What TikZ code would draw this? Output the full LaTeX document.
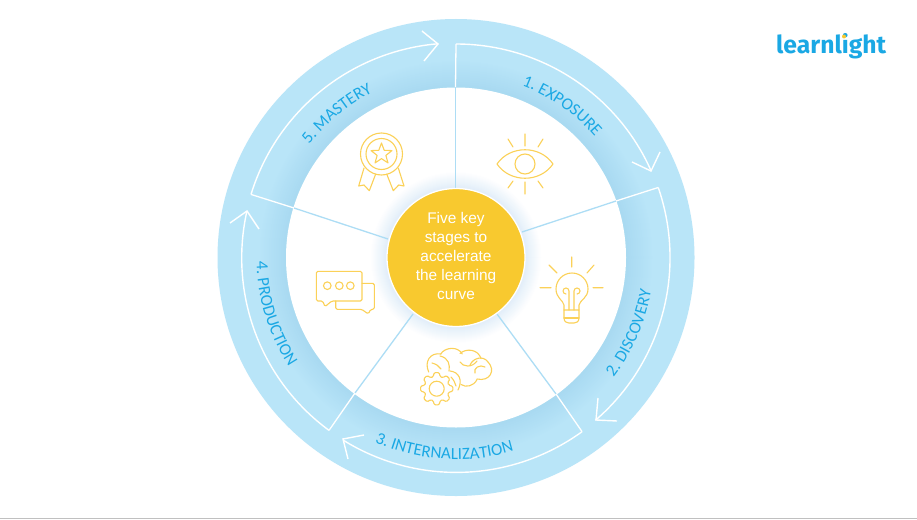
\documentclass[tikz,border=0pt]{standalone}
\usepackage{fontspec}
\setmainfont{Liberation Sans}
\newfontfamily\lblfont{Carlito}
\newfontfamily\logofont{Fira Sans}
\usetikzlibrary{calc,decorations.text}
\definecolor{ringout}{HTML}{B9E5F8}
\definecolor{ringin}{HTML}{A8D9F1}
\definecolor{spokeblue}{HTML}{ADDDF5}
\definecolor{lbl}{HTML}{1AA8E4}
\definecolor{hubfill}{HTML}{F8C92F}
\definecolor{iconcol}{HTML}{FBD158}
\definecolor{glowcol}{HTML}{E0EDF9}
\definecolor{footline}{HTML}{C0C0C0}
\tikzset{
  flow/.style={draw=white,line width=1.4pt,line join=miter},
  spokein/.style={draw=spokeblue,line width=1.3pt},
  spokeout/.style={draw=white,line width=1.3pt},
  icon/.style={draw=iconcol,line width=1.1pt,line cap=round,line join=round},
  hubnode/.style={circle,fill=hubfill,draw=white,line width=1.3pt,minimum size=138pt,inner sep=0pt,text=white,align=center,font=\fontsize{15.4}{18.8}\selectfont},
}
\newcommand{\ringlabel}[4]{%
  \path[decorate,decoration={text along path,text align=center,
    text={|\lblfont\fontsize{17}{18}\selectfont\color{lbl}|#4}}]
    ($(O)+(#1:#3)$) arc[start angle=#1,end angle=#2,radius=#3];}
\begin{document}
\begin{tikzpicture}[x=1pt,y=-1pt]
\useasboundingbox (0,0) rectangle (917,519);
\fill[white] (0,0) rectangle (917,519);
\coordinate (O) at (456,257.5);
% ring
\fill[ringout] (O) circle[radius=238.5];
\foreach \r in {198,197,...,171}{
  \pgfmathtruncatemacro{\p}{(198-\r)/28*100}
  \fill[ringin!\p!ringout] (O) circle[radius=\r];
}
\fill[white] (O) circle[radius=170];
\foreach \r in {86,85,...,69}{
  \pgfmathtruncatemacro{\p}{(86-\r)/17*100}
  \fill[glowcol!\p!white] (O) circle[radius=\r];
}
% spoke points
\coordinate (s1) at (455.5,188); \coordinate (b1) at (455.5,87);  \coordinate (k1) at ($(O)+(-90:213.5)$);
\coordinate (s2) at (522,232);   \coordinate (b2) at (616,201);   \coordinate (k2) at ($(O)+(-19.1:214)$);
\coordinate (s3) at (497,314);   \coordinate (b3) at (556,394);   \coordinate (k3) at ($(O)+(54.1:215)$);
\coordinate (s4) at (413,314);   \coordinate (b4) at (355,393);   \coordinate (k4) at ($(O)+(126.3:214.5)$);
\coordinate (s5) at (388,239);   \coordinate (b5) at (294,208);   \coordinate (k5) at ($(O)+(197.1:214.5)$);
\foreach \i in {1,...,5}{
  \draw[spokein] (s\i) -- (b\i);
  \draw[spokeout] (b\i) -- (k\i);
}
% flow arcs
\draw[flow] (k1) arc[start angle=-90,end angle=-23.9,radius=213.5];
\draw[flow] (k2) arc[start angle=-19.1,end angle=49.3,radius=214.5];
\draw[flow] (k3) arc[start angle=54.1,end angle=121.8,radius=214.5];
\draw[flow] (k4) arc[start angle=126.3,end angle=192.4,radius=214];
\draw[flow] (k5) arc[start angle=197.1,end angle=265.2,radius=214.5];
% arrowheads
\coordinate (t1) at (651,171); \coordinate (t2) at (596,420); \coordinate (t3) at (343,439); \coordinate (t4) at (247,211); \coordinate (t5) at (438,44);
\draw[flow] (660,152) -- (t1) -- (632,162);
\draw[flow] (598,398) -- (t2) -- (617,421);
\draw[flow] (364,435) -- (t3) -- (348,459);
\draw[flow] (230,223) -- (t4) -- (259,229);
\draw[flow] (422,31) -- (t5) -- (424,61);
% labels
\ringlabel{-69}{-41}{184}{1. EXPOSURE}
\ringlabel{36.5}{10.4}{198}{2. DISCOVERY}
\ringlabel{113.3}{73.8}{202}{3. INTERNALIZATION}
\ringlabel{179}{146.6}{199.5}{4. PRODUCTION}
\ringlabel{217.4}{243.3}{185}{5. MASTERY}
% hub
\node[hubnode] (hub) at (O) {Five key\\stages to\\accelerate\\the learning\\curve\rule[-3pt]{0pt}{3pt}};
% eye
\draw[icon] (497,164) .. controls (510,145) and (540,145) .. (553,164) .. controls (540,183) and (510,183) .. (497,164) -- cycle;
\draw[icon] (525,164) circle[radius=10];
\draw[icon] (525,134) -- (525,146) (525,182) -- (525,194)
  (508,139) -- (513,147) (543,139) -- (538,147) (508,188) -- (513,181) (543,188) -- (538,181);
% bulb
\draw[icon] (564,310) -- (564,305) .. controls (563,300) and (556,298) .. (556,289) arc[start angle=180,end angle=360,radius=16] .. controls (588,298) and (580,300) .. (579,305) -- (579,310);
\draw[icon] (564,310) -- (579,310) -- (579,318) .. controls (579,322) and (576,323) .. (574,323) -- (569,323) .. controls (567,323) and (564,322) .. (564,318) -- cycle;
\draw[icon] (564,318) -- (579,318);
\draw[icon] (569,310) -- (569,291) arc[start angle=0,end angle=-270,radius=3] (574,310) -- (574,291) arc[start angle=180,end angle=450,radius=3];
\draw[icon] (571.7,257) -- (571.7,267) (540,287.7) -- (551,287.7) (593,287.7) -- (603,287.7)
  (549,265) -- (557,273) (594,265) -- (587,273);
% medal
\coordinate (medal) at (381.5,154);
\draw[icon] (medal) circle[radius=21] (medal) circle[radius=15.5];
\draw[icon,shift={(medal)}] (-90:11)
  \foreach \a in {-54,18,90,162}{ -- (\a-0:4.6) -- (\a+36:11) } -- (234:4.6) -- cycle;
\draw[icon] (364,168) -- (358.7,186) -- (364,185) -- (369.3,190.7) -- (375.7,174);
\draw[icon] (398.3,168) -- (404,186) -- (398.7,185) -- (393.3,190.7) -- (386.7,174);
% chat
\draw[icon,rounded corners=1.5pt] (322.7,301) -- (316.3,301) -- (316.3,271.3) -- (362,271.3) -- (362,301) -- (331.7,301) -- (325,306.7) -- cycle;
\draw[icon,rounded corners=1.5pt] (362,283.3) -- (374.3,283.3) -- (374.3,309.3) -- (370.7,309.3) -- (368.3,314) -- (361.7,309.3) -- (335.7,309.3) -- (335.7,301);
\draw[icon] (327.3,285.7) circle[radius=3.8] (339.3,285.7) circle[radius=3.8] (350.3,285.7) circle[radius=3.8];
% gear
\coordinate (gear) at (436.7,388.7);
\draw[icon,rounded corners=1.2pt,shift={(gear)}] (-16:12.5)
  \foreach \a in {0,45,...,315}{ -- (\a-16:12.5) -- (\a-9:16.3) -- (\a+9:16.3) -- (\a+16:12.5) } -- cycle;
\draw[icon] (gear) circle[radius=7.5];
% brain
\draw[icon] (428.7,372) .. controls (424,362) and (430,352) .. (441,354);
\draw[icon] (440.7,354) .. controls (445,347) and (458,346) .. (462.3,354);
\draw[icon] (460,353.5) .. controls (466,348) and (478,349) .. (481,358.5);
\draw[icon] (470,365) .. controls (473,358) and (483,355) .. (488,362) .. controls (496,370) and (490,382) .. (477,379);
\draw[icon] (477,379.5) .. controls (474,386) and (466,388) .. (461,384.5);
\draw[icon] (440,356) .. controls (449,358) and (450,365) .. (449,371);
\draw[icon] (450,371) .. controls (459,372) and (463,380) .. (458,390);
\draw[icon] (460,362) .. controls (463,367) and (472,368) .. (477,361);
\draw[icon] (475,373) .. controls (473,368) and (480,364) .. (485,367);
\draw[icon] (432,363) .. controls (436,364) and (439,366) .. (441,369);
\draw[icon] (451,377) .. controls (454,380) and (455,383) .. (456,386);
% logo
\node[anchor=base west,inner sep=0pt,text=lbl,font=\logofont\bfseries\fontsize{24.7}{25}\selectfont] (logo) at (776,53) {learnlight};
\fill[hubfill] (844,36.5) circle[radius=2];
% bottom line
\coordinate (l0) at (0,518); \coordinate (l1) at (917,518);
\draw[footline,line width=1pt] (l0) -- (l1);
\end{tikzpicture}
\end{document}
